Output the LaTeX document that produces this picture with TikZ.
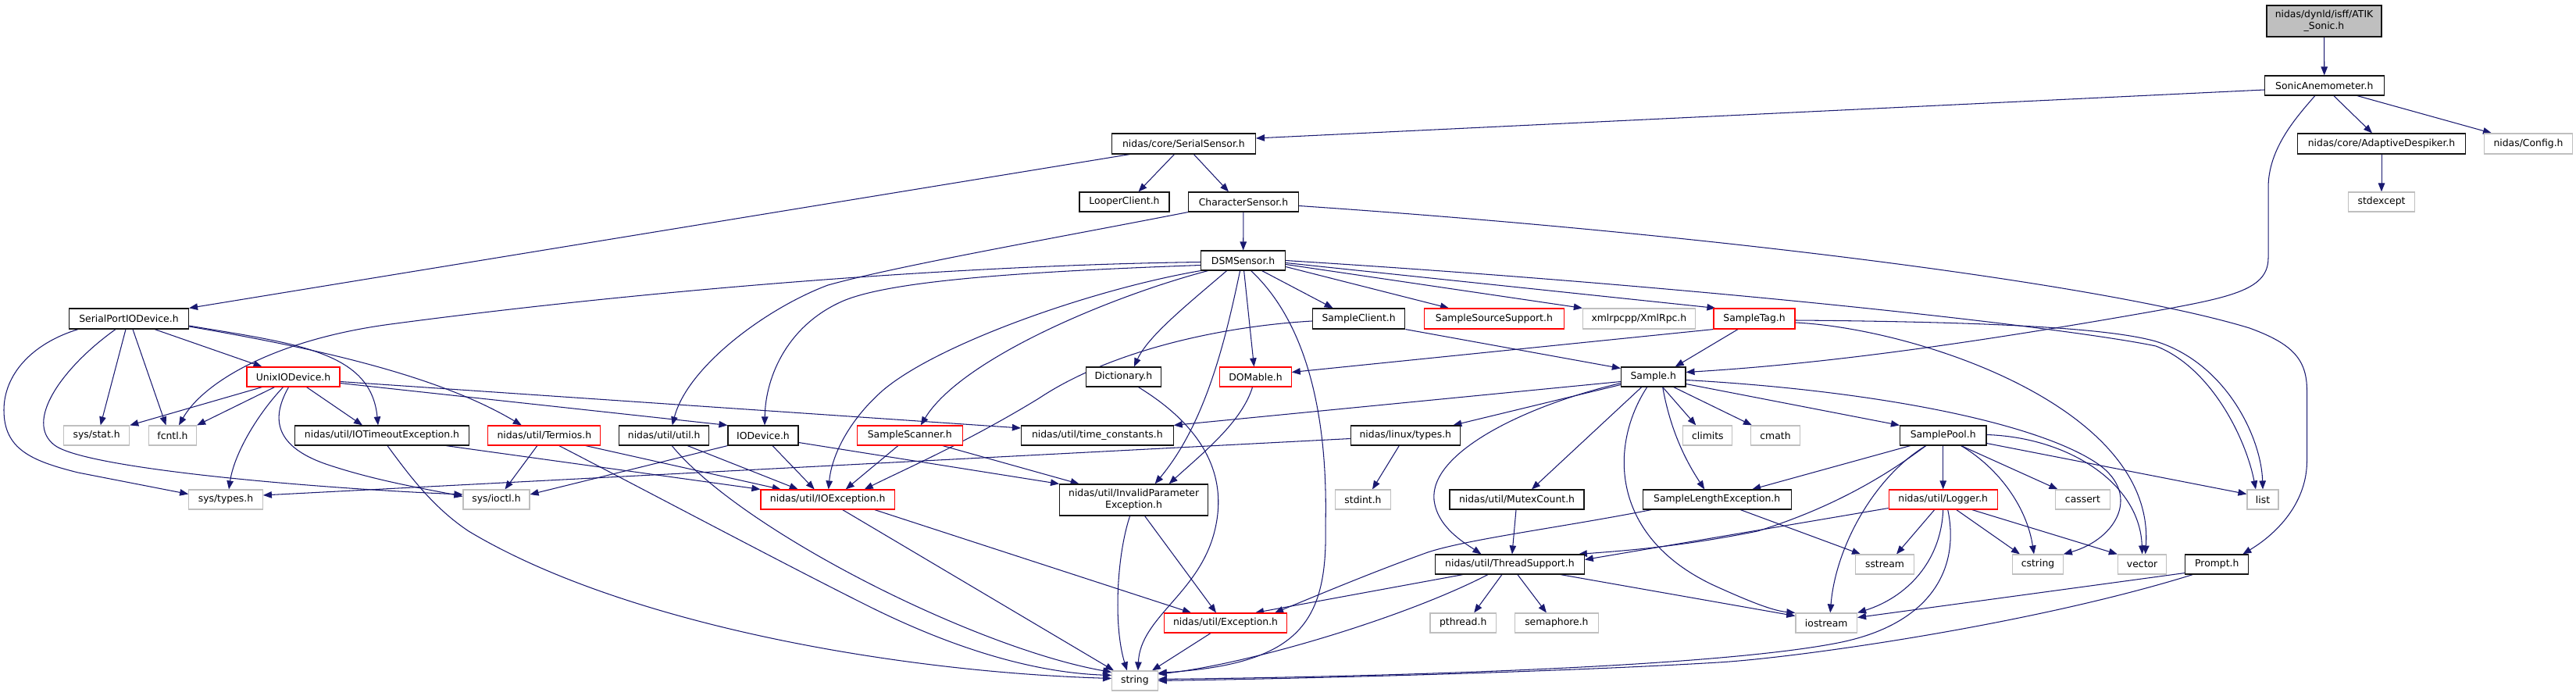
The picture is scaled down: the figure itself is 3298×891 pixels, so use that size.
\documentclass[tikz,border=0pt]{standalone}
\usepackage{fontspec}
\setmainfont{DejaVu Sans}
\usetikzlibrary{arrows.meta}
\definecolor{edgeblue}{RGB}{25,25,112}
\definecolor{greyl}{RGB}{191,191,191}
\definecolor{nred}{RGB}{255,0,0}
\definecolor{nblack}{RGB}{20,20,20}
\pgfdeclarelayer{bg}
\pgfsetlayers{bg,main}
\begin{document}
\begin{tikzpicture}[x=1pt,y=-1pt,
  nbox/.style={draw=nblack, fill=white, line width=1.15pt, minimum height=25pt, inner sep=0pt, font=\fontsize{12.4}{15}\selectfont},
  ext/.style={nbox, draw=greyl},
  trunc/.style={nbox, draw=nred},
  dep/.style={draw=edgeblue, line width=1.05pt, -{Triangle[length=11pt,width=8.5pt]}}]
\useasboundingbox (0,0) rectangle (3298,891);
% nodes
\node[nbox, fill=greyl, minimum width=147pt, minimum height=40pt, align=center] (root) at (2975.5,27) {nidas/dynld/isff/ATIK\\\_Sonic.h};
\node[nbox, minimum width=153pt] (sonic) at (2975.8,109.5) {SonicAnemometer.h};
\node[nbox, minimum width=184pt, minimum height=26pt] (serial) at (1515.4,184) {nidas/core/SerialSensor.h};
\node[nbox, minimum width=215pt, minimum height=26pt] (despike) at (3049,184) {nidas/core/AdaptiveDespiker.h};
\node[ext, minimum width=113pt, minimum height=26pt] (config) at (3237,184) {nidas/Config.h};
\node[ext, minimum width=85pt] (stdexc) at (3049,258.5) {stdexcept};
\node[nbox, minimum width=115pt] (looper) at (1439.5,258.5) {LooperClient.h};
\node[nbox, minimum width=141pt] (charsens) at (1592,258.5) {CharacterSensor.h};
\node[nbox, minimum width=108pt] (dsm) at (1591.6,333.5) {DSMSensor.h};
\node[nbox, minimum width=153pt, minimum height=26pt] (spio) at (165,408) {SerialPortIODevice.h};
\node[nbox, minimum width=118.5pt, minimum height=26pt] (sclient) at (1739.6,408) {SampleClient.h};
\node[trunc, minimum width=179pt, minimum height=26pt] (sss) at (1912.9,408) {SampleSourceSupport.h};
\node[ext, minimum width=144pt, minimum height=26pt] (xmlrpc) at (2098.4,408) {xmlrpcpp/XmlRpc.h};
\node[trunc, minimum width=104pt, minimum height=26pt] (stag) at (2246,408) {SampleTag.h};
\node[trunc, minimum width=119pt] (unixio) at (375.5,482.5) {UnixIODevice.h};
\node[nbox, minimum width=96pt] (dict) at (1438.4,482.5) {Dictionary.h};
\node[trunc, minimum width=91.4pt] (domable) at (1607.5,482.5) {DOMable.h};
\node[nbox, minimum width=82.5pt] (sample) at (2116.7,482.5) {Sample.h};
\node[ext, minimum width=84pt] (sysstat) at (123.7,557.5) {sys/stat.h};
\node[ext, minimum width=61pt] (fcntl) at (221,557.5) {fcntl.h};
\node[nbox, minimum width=222.5pt] (iotimeout) at (489,557.5) {nidas/util/IOTimeoutException.h};
\node[trunc, minimum width=144pt] (termios) at (696.8,557.5) {nidas/util/Termios.h};
\node[nbox, minimum width=114.6pt] (util) at (850.2,557.5) {nidas/util/util.h};
\node[nbox, minimum width=90pt] (iodevice) at (977,557.5) {IODevice.h};
\node[trunc, minimum width=134.6pt] (sscanner) at (1164.8,557.5) {SampleScanner.h};
\node[nbox, minimum width=194.6pt] (timec) at (1404.8,557.5) {nidas/util/time\_constants.h};
\node[nbox, minimum width=140pt] (linuxtypes) at (1799.3,557.5) {nidas/linux/types.h};
\node[ext, minimum width=63pt] (climits) at (2186.3,557.5) {climits};
\node[ext, minimum width=62.5pt] (cmath) at (2273,557.5) {cmath};
\node[nbox, minimum width=110.4pt] (spool) at (2487.7,557.5) {SamplePool.h};
\node[ext, minimum width=94.6pt] (systypes) at (289,639.5) {sys/types.h};
\node[ext, minimum width=85pt] (ioctl) at (635.5,639.5) {sys/ioctl.h};
\node[trunc, minimum width=171.5pt] (ioexc) at (1059.7,639.5) {nidas/util/IOException.h};
\node[nbox, minimum width=190pt, minimum height=40pt, align=center] (invparam) at (1451.6,640) {nidas/util/InvalidParameter\\Exception.h};
\node[ext, minimum width=71.4pt] (stdint) at (1745,639.5) {stdint.h};
\node[nbox, minimum width=172pt] (mutex) at (1942,639.5) {nidas/util/MutexCount.h};
\node[nbox, minimum width=190pt] (slenexc) at (2198.2,639.5) {SampleLengthException.h};
\node[trunc, minimum width=139pt] (logger) at (2487.7,639.5) {nidas/util/Logger.h};
\node[ext, minimum width=69.3pt] (cassert) at (2666.4,639.5) {cassert};
\node[ext, minimum width=40pt] (list) at (2897,639.5) {list};
\node[nbox, minimum width=190.7pt] (thread) at (1932.9,722.5) {nidas/util/ThreadSupport.h};
\node[ext, minimum width=74.6pt] (sstream) at (2413,722.5) {sstream};
\node[ext, minimum width=64.6pt] (cstring) at (2609,722.5) {cstring};
\node[ext, minimum width=62.4pt] (vector) at (2742.6,722.5) {vector};
\node[nbox, minimum width=81pt] (prompt) at (2838.3,722.5) {Prompt.h};
\node[trunc, minimum width=157pt] (exc) at (1569,797.5) {nidas/util/Exception.h};
\node[ext, minimum width=84.3pt] (pthread) at (1873.2,797.5) {pthread.h};
\node[ext, minimum width=107pt] (semaphore) at (1992.9,797.5) {semaphore.h};
\node[ext, minimum width=78.6pt] (iostream) at (2338.2,797.5) {iostream};
\node[ext, minimum width=58.6pt] (string) at (1452.9,871.5) {string};
% edges
\begin{pgfonlayer}{bg}
\draw[dep] (root) -- (sonic);
\draw[dep] ([yshift=-5.5]sonic.west) -- ([yshift=7]serial.east);
\draw[dep] ([xshift=12]sonic.south) -- ([xshift=-12]despike.north);
\draw[dep] ([xshift=42]sonic.south) -- ([xshift=-47]config.north);
\draw[dep] ([xshift=-12]sonic.south) .. controls (2940,150) and (2904,190) .. (2904,240) -- (2904,330) .. controls (2904,370) and (2860,380) .. (2760,398) .. controls (2550,435) and (2350,465) .. ([yshift=6]sample.east);
\draw[dep] (despike) -- (stdexc);
\draw[dep] ([xshift=-69]serial.south) -- (spio.north east);
\draw[dep] ([xshift=-12]serial.south) -- ([xshift=18]looper.north);
\draw[dep] ([xshift=13]serial.south) -- ([xshift=-19]charsens.north);
\draw[dep] (charsens) -- (dsm);
\draw[dep] (charsens.south west) .. controls (1350,305) and (1150,340) .. (1060,365) .. controls (980,395) and (880,470) .. ([xshift=10.5]util.north);
\draw[dep] ([yshift=-5]charsens.east) .. controls (2200,300) and (2700,365) .. (2880,420) .. controls (2935,440) and (2953.5,460) .. (2953.5,500) -- (2953.5,590) .. controls (2953.5,640) and (2920,680) .. ([xshift=33]prompt.north);
% DSMSensor
\draw[dep] ([yshift=-2]dsm.west) .. controls (1200,340) and (800,375) .. (500,415) .. controls (350,435) and (260,490) .. ([xshift=8]fcntl.north);
\draw[dep] ([yshift=-6]dsm.west) .. controls (1300,348) and (1140,360) .. (1080,385) .. controls (1010,415) and (980,480) .. ([xshift=2]iodevice.north);
\draw[dep] (dsm.south west) .. controls (1400,370) and (1200,440) .. (1130,500) .. controls (1090,535) and (1065,580) .. ([xshift=1]ioexc.north);
\draw[dep] ([xshift=-45]dsm.south) .. controls (1420,380) and (1230,460) .. ([xshift=14]sscanner.north);
\draw[dep] ([xshift=-21]dsm.south) .. controls (1520,390) and (1470,430) .. ([xshift=13.5]dict.north);
\draw[dep] ([xshift=-4]dsm.south) .. controls (1570,430) and (1545,540) .. ([xshift=27]invparam.north);
\draw[dep] ([xshift=1]dsm.south) -- ([xshift=-2]domable.north);
\draw[dep] ([xshift=10]dsm.south) .. controls (1680,420) and (1700,550) .. (1697,673) .. controls (1700,800) and (1660,850) .. ([yshift=10]string.east);
\draw[dep] ([xshift=24]dsm.south) -- ([xshift=-33]sclient.north);
\draw[dep] ([yshift=-8]dsm.east) -- ([xshift=-58]sss.north);
\draw[dep] ([yshift=-5]dsm.east) -- (xmlrpc.north west);
\draw[dep] ([yshift=-3]dsm.east) -- ([xshift=3]stag.north west);
\draw[dep] (dsm.east) .. controls (2200,368) and (2650,420) .. (2760,443) .. controls (2830,470) and (2875,560) .. ([xshift=-9]list.north);
% SerialPortIODevice
\draw[dep] ([xshift=-65]spio.south) .. controls (40,440) and (5,480) .. (5,525) .. controls (5,575) and (40,590) .. (100,605) -- ([yshift=7]systypes.west);
\draw[dep] ([xshift=-17]spio.south) .. controls (80,470) and (30,540) .. (70,570) .. controls (110,600) and (400,625) .. ([yshift=6.5]ioctl.west);
\draw[dep] ([xshift=-4]spio.south) -- ([xshift=5]sysstat.north);
\draw[dep] ([xshift=5]spio.south) -- ([xshift=-8.5]fcntl.north);
\draw[dep] ([xshift=33]spio.south) -- ([xshift=-40]unixio.north);
\draw[dep] ([yshift=-9]spio.east) .. controls (380,440) and (475,450) .. ([xshift=-5]iotimeout.north);
\draw[dep] ([yshift=-10]spio.east) .. controls (400,445) and (560,480) .. ([xshift=-29]termios.north);
% UnixIODevice
\draw[dep] ([xshift=-40]unixio.south) -- (sysstat.north east);
\draw[dep] ([xshift=-24]unixio.south) -- (fcntl.north east);
\draw[dep] ([xshift=-13]unixio.south) .. controls (330,530) and (300,580) .. ([xshift=4]systypes.north);
\draw[dep] ([xshift=-6]unixio.south) .. controls (350,530) and (345,570) .. (420,595) .. controls (480,615) and (540,625) .. ([yshift=4]ioctl.west);
\draw[dep] ([xshift=17]unixio.south) -- ([xshift=-25]iotimeout.north);
\draw[dep] ([yshift=-6]unixio.east) -- ([yshift=9.5]timec.west);
\draw[dep] ([yshift=-8]unixio.east) -- (iodevice.north west);
% IOTimeoutException
\draw[dep] ([xshift=7]iotimeout.south) .. controls (525,610) and (555,650) .. (600,680) .. controls (800,800) and (1150,860) .. ([yshift=3]string.west);
\draw[dep] ([xshift=82]iotimeout.south) -- (ioexc.north west);
% Termios
\draw[dep] ([xshift=-9]termios.south) -- ([xshift=11]ioctl.north);
\draw[dep] ([xshift=53]termios.south) -- ([xshift=-60]ioexc.north);
\draw[dep] ([xshift=19]termios.south) .. controls (850,640) and (1000,720) .. (1110,775) .. controls (1250,845) and (1350,862) .. ([yshift=7]string.west);
% util
\draw[dep] ([xshift=30]util.south) -- ([xshift=-38]ioexc.north);
\draw[dep] ([xshift=10]util.south) .. controls (950,680) and (1250,830) .. ([yshift=11]string.west);
% IODevice
\draw[dep] ([xshift=12]iodevice.south) -- ([xshift=-17]ioexc.north);
\draw[dep] (iodevice.south west) -- ([yshift=6.5]ioctl.east);
\draw[dep] ([yshift=-9]iodevice.east) -- (invparam.north west);
% SampleScanner
\draw[dep] ([xshift=-15]sscanner.south) -- ([xshift=23]ioexc.north);
\draw[dep] ([xshift=42]sscanner.south) -- ([xshift=-70]invparam.north);
% SampleClient
\draw[dep] ([yshift=-3]sclient.west) .. controls (1560,418) and (1420,450) .. (1330,510) .. controls (1240,565) and (1160,600) .. ([xshift=47]ioexc.north);
\draw[dep] (sclient.south east) -- ([yshift=11]sample.west);
% SampleTag
\draw[dep] ([xshift=-21]stag.south) -- ([xshift=28]sample.north);
\draw[dep] (stag.south west) -- ([yshift=6]domable.east);
\draw[dep] ([yshift=-2]stag.east) .. controls (2550,412) and (2700,420) .. (2760,437) .. controls (2850,465) and (2895,560) .. (list.north);
\draw[dep] ([yshift=-5]stag.east) .. controls (2450,420) and (2760,520) .. ([xshift=4]vector.north);
% DOMable, Dictionary
\draw[dep] ([xshift=-4]domable.south) .. controls (1590,540) and (1540,580) .. ([xshift=45]invparam.north);
\draw[dep] ([xshift=19]dict.south) .. controls (1530,540) and (1575,600) .. (1555,680) .. controls (1535,760) and (1460,790) .. ([xshift=4]string.north);
% InvalidParameterException, IOException, Exception
\draw[dep] ([xshift=-5]invparam.south) .. controls (1430,710) and (1425,800) .. ([xshift=-10]string.north);
\draw[dep] ([xshift=14]invparam.south) -- ([xshift=-12]exc.north);
\draw[dep] ([xshift=60]ioexc.south) -- ([xshift=-44]exc.north);
\draw[dep] ([xshift=19]ioexc.south) -- ([xshift=3]string.north west);
\draw[dep] ([xshift=-19]exc.south) -- ([xshift=22]string.north);
% linux/types
\draw[dep] ([yshift=-4]linuxtypes.west) -- ([yshift=5.5]systypes.east);
\draw[dep] ([xshift=-8]linuxtypes.south) -- ([xshift=12]stdint.north);
% Sample.h
\draw[dep] ([yshift=-6]sample.west) -- (timec.north east);
\draw[dep] ([yshift=-10]sample.west) -- ([xshift=61]linuxtypes.north);
\draw[dep] ([yshift=-8]sample.west) .. controls (1950,520) and (1830,580) .. (1836,640) .. controls (1840,675) and (1875,695) .. ([xshift=-36.5]thread.north);
\draw[dep] ([xshift=-15]sample.south) -- ([xshift=19]mutex.north);
\draw[dep] ([xshift=-8]sample.south) .. controls (2060,570) and (2060,690) .. (2200,752) .. controls (2240,770) and (2270,782) .. (iostream.north west);
\draw[dep] ([xshift=12]sample.south) .. controls (2140,560) and (2165,600) .. ([xshift=-16]slenexc.north);
\draw[dep] ([xshift=12]sample.south) -- ([xshift=-15]climits.north);
\draw[dep] ([xshift=26]sample.south) -- ([xshift=-30]cmath.north);
\draw[dep] ([yshift=-9]sample.east) -- (spool.north west);
\draw[dep] ([yshift=-4]sample.east) .. controls (2400,500) and (2600,540) .. (2680,590) .. controls (2745,630) and (2710,690) .. (cstring.north east);
% SamplePool
\draw[dep] ([xshift=-42]spool.south) -- ([xshift=45]slenexc.north);
\draw[dep] ([xshift=-22]spool.south) .. controls (2400,620) and (2330,655) .. (2250,680) .. controls (2150,700) and (2080,705) .. ([xshift=-8]thread.north east);
\draw[dep] ([xshift=-22]spool.south) .. controls (2400,610) and (2350,700) .. ([xshift=5]iostream.north);
\draw[dep] (spool) -- (logger);
\draw[dep] ([xshift=23]spool.south) .. controls (2560,600) and (2595,650) .. ([xshift=-5]cstring.north);
\draw[dep] ([xshift=23]spool.south) -- ([xshift=-32]cassert.north);
\draw[dep] ([yshift=1]spool.east) .. controls (2650,560) and (2740,620) .. (vector.north);
\draw[dep] ([yshift=-10]spool.east) -- ([yshift=7]list.west);
% Logger
\draw[dep] ([xshift=-11]logger.south) -- ([xshift=15]sstream.north);
\draw[dep] (logger.south) .. controls (2485,720) and (2440,765) .. (iostream.north east);
\draw[dep] ([xshift=6]logger.south) .. controls (2510,730) and (2470,800) .. (2353,823) .. controls (2200,853) and (1800,866) .. ([yshift=2]string.east);
\draw[dep] ([xshift=17]logger.south) -- ([xshift=-23]cstring.north);
\draw[dep] ([xshift=37]logger.south) -- (vector.north west);
\draw[dep] ([yshift=-11]logger.west) -- ([yshift=6]thread.east);
% SampleLengthException
\draw[dep] ([xshift=30]slenexc.south) -- ([xshift=-31]sstream.north);
\draw[dep] ([xshift=-84]slenexc.south) .. controls (2000,675) and (1880,690) .. (1828,707) .. controls (1750,735) and (1680,765) .. ([xshift=63]exc.north);
% MutexCount, ThreadSupport
\draw[dep] ([xshift=-1]mutex.south) -- ([xshift=3]thread.north);
\draw[dep] ([xshift=-10]thread.south) -- ([xshift=14]pthread.north);
\draw[dep] ([xshift=10]thread.south) -- ([xshift=-13]semaphore.north);
\draw[dep] ([xshift=-60]thread.south) -- ([xshift=38]exc.north);
\draw[dep] ([xshift=-28]thread.south) .. controls (1800,790) and (1600,850) .. ([yshift=8.5]string.east);
\draw[dep] ([xshift=65]thread.south) -- ([yshift=9]iostream.west);
% Prompt
\draw[dep] ([yshift=-11]prompt.west) -- ([yshift=7]iostream.east);
\draw[dep] ([xshift=-31]prompt.south) .. controls (2600,800) and (2300,842) .. (2200,848) .. controls (2000,860) and (1700,868) .. (string.east);
\end{pgfonlayer}
\end{tikzpicture}
\end{document}
